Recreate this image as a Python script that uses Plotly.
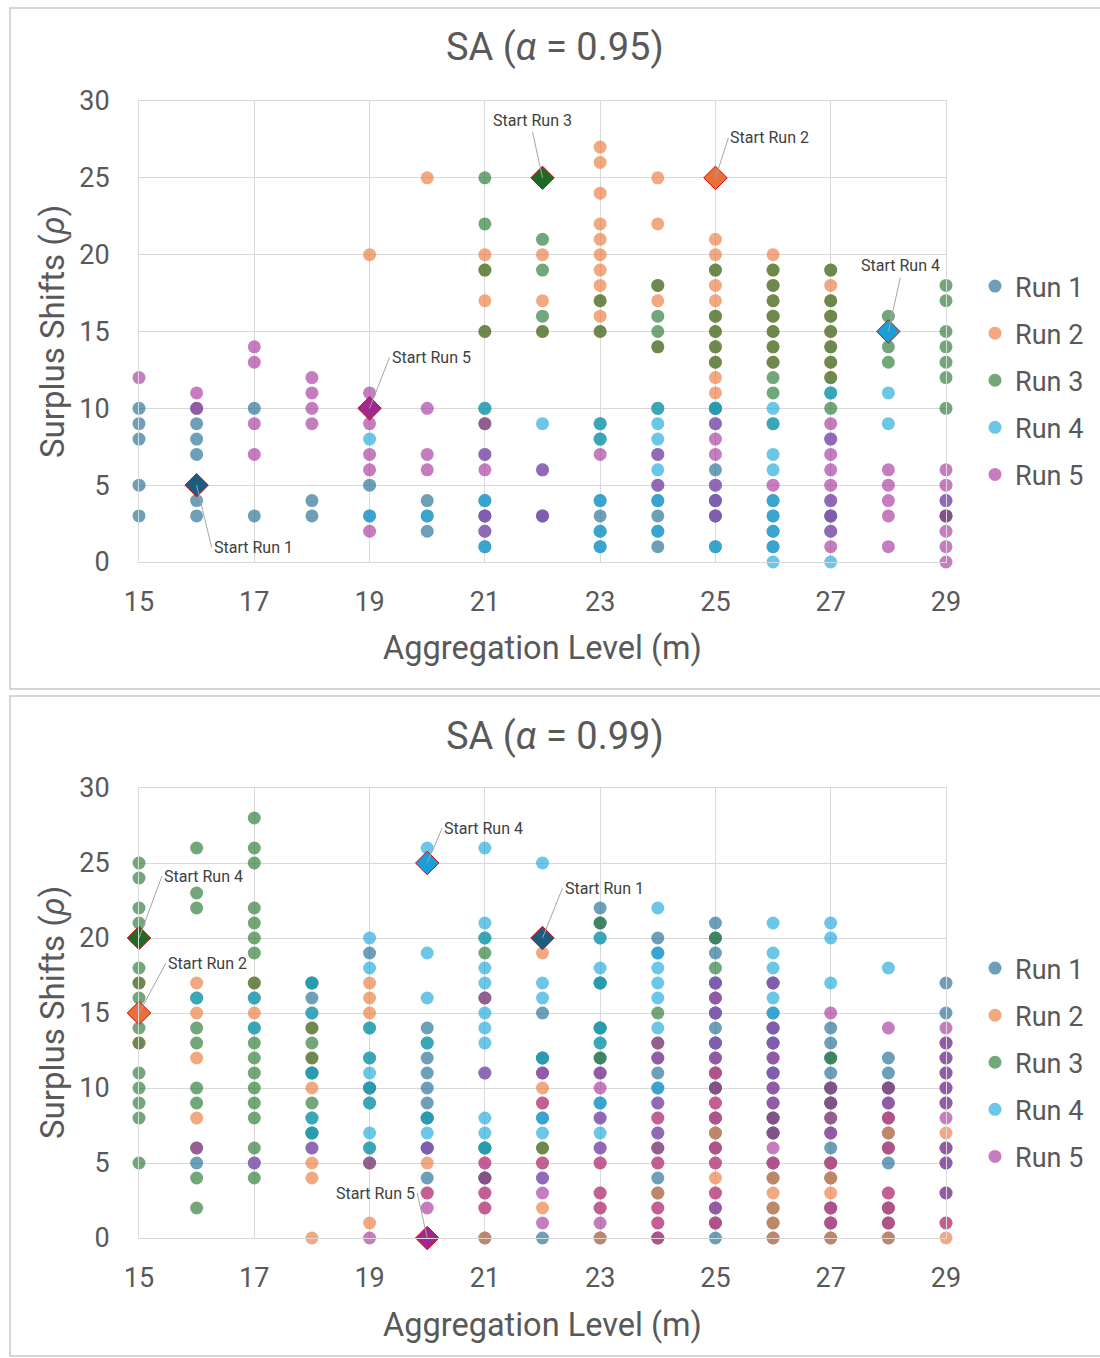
import plotly.graph_objects as go

# ---------------- data ----------------
RUN_NAMES = ["Run 1", "Run 2", "Run 3", "Run 4", "Run 5"]
X_TICKS = [15, 17, 19, 21, 23, 25, 27, 29]
Y_TICKS = [0, 5, 10, 15, 20, 25, 30]

# SA (alpha = 0.95): visited points per run, {m: [rho, ...]}
A95_RUN1 = {15: [10, 9, 8, 5, 3], 16: [10, 9, 8, 7, 4, 3], 17: [10, 3], 18: [4, 3], 19: [5, 3],
            20: [4, 3, 2], 21: [4, 3, 1], 22: [3], 23: [4, 3, 2, 1], 24: [4, 3, 2, 1],
            25: [10, 6, 4, 3, 1], 26: [4, 3, 2, 1], 27: [3], 29: [3]}
A95_RUN2 = {19: [20], 20: [25], 21: [20, 19, 17, 15], 22: [20, 17, 15],
            23: [27, 26, 24, 22, 21, 20, 19, 18, 17, 16, 15], 24: [25, 22, 18, 17, 14],
            25: [21, 20, 19, 18, 17, 16, 15, 14, 13, 12, 11], 26: [20, 19, 18, 17, 16, 15, 14, 13],
            27: [19, 18, 17, 16, 15, 14, 13, 12]}
A95_RUN3 = {21: [25, 22, 19, 15, 10, 9], 22: [21, 19, 16, 15], 23: [17, 15, 9, 8],
            24: [18, 16, 15, 14, 10], 25: [19, 16, 15, 14, 13, 10],
            26: [19, 18, 17, 16, 15, 14, 13, 12, 11, 9], 27: [19, 17, 16, 15, 14, 13, 12, 11, 10],
            28: [16, 14, 13], 29: [18, 17, 15, 14, 13, 12, 10, 3]}
A95_RUN4 = {19: [8, 3], 20: [3], 21: [10, 7, 4, 3, 2, 1], 22: [9, 6, 3], 23: [9, 8, 4, 2, 1],
            24: [10, 9, 8, 7, 6, 5, 4, 2], 25: [10, 9, 5, 4, 3, 1], 26: [10, 9, 7, 6, 4, 3, 2, 1, 0],
            27: [11, 8, 4, 3, 2, 0], 28: [11, 9], 29: [4]}
A95_RUN5 = {15: [12], 16: [11, 10], 17: [14, 13, 9, 7], 18: [12, 11, 10, 9], 19: [11, 9, 7, 6, 2],
            20: [10, 7, 6], 21: [9, 7, 6, 3, 2], 22: [6, 3], 23: [7], 24: [7, 5],
            25: [9, 8, 7, 5, 4, 3], 26: [5], 27: [9, 8, 7, 6, 5, 4, 3, 2, 1],
            28: [6, 5, 4, 3, 1], 29: [6, 5, 4, 3, 2, 1, 0]}
A95_START_X = [16, 25, 22, 28, 19]
A95_START_Y = [5, 25, 25, 15, 10]
A95_START_LABELS = ["Start Run 1", "Start Run 2", "Start Run 3", "Start Run 4", "Start Run 5"]

# SA (alpha = 0.99)
A99_RUN1 = {16: [5], 18: [17, 16, 11, 7], 19: [19, 10], 20: [14, 12, 11, 10, 9, 8, 6, 4],
            21: [6, 4, 0], 22: [15, 12, 11, 8, 0], 23: [22, 21, 17, 14, 12, 11, 9, 0],
            24: [20, 19, 12, 11, 10, 4, 3, 0],
            25: [21, 20, 19, 17, 16, 15, 14, 13, 12, 11, 10, 8, 7, 6, 2, 1, 0],
            26: [17, 15, 14, 13, 12, 11, 10, 9, 8, 7, 5, 4, 2, 1, 0],
            27: [14, 13, 12, 11, 10, 9, 7, 6, 5, 4, 2, 1, 0],
            28: [12, 11, 10, 9, 8, 7, 6, 5, 2, 1, 0], 29: [17, 15, 13, 12, 11, 10, 9, 6, 5, 3]}
A99_RUN2 = {15: [17, 13], 16: [17, 15, 12, 8], 17: [17, 15], 18: [14, 12, 10, 5, 4, 0],
            19: [17, 16, 15, 1], 20: [5, 3], 21: [5, 3, 2, 0], 22: [19, 10, 9, 6, 5, 2],
            23: [5, 3, 2, 0], 24: [8, 5, 3, 2, 1, 0], 25: [11, 9, 8, 7, 6, 5, 4, 3, 1],
            26: [5, 4, 3, 2, 1, 0], 27: [5, 4, 3, 2, 1, 0], 28: [8, 7, 6, 3, 2, 1, 0], 29: [7, 1, 0]}
A99_RUN3 = {15: [25, 24, 22, 21, 18, 17, 16, 14, 13, 11, 10, 9, 8, 5],
            16: [26, 23, 22, 16, 14, 13, 10, 9, 6, 4, 2],
            17: [28, 26, 25, 22, 21, 20, 19, 17, 16, 14, 13, 12, 11, 10, 9, 8, 6, 4],
            18: [17, 15, 14, 13, 12, 11, 9, 8, 7], 19: [14, 12, 10, 9, 6, 5], 20: [13, 8],
            21: [20, 19, 16, 6, 4], 22: [12, 6], 23: [21, 20, 17, 14, 13, 12], 24: [15, 13, 6],
            25: [20, 18, 10], 26: [8, 7], 27: [12, 10, 9, 8], 28: [10]}
A99_RUN4 = {16: [16], 17: [16, 14, 5], 18: [17, 15, 11, 8, 7, 6], 19: [20, 18, 14, 12, 11, 10, 9, 7, 6],
            20: [26, 19, 16, 13, 8, 7, 6], 21: [26, 21, 20, 18, 17, 15, 14, 13, 11, 8, 7, 6],
            22: [25, 17, 16, 12, 8, 7, 4], 23: [20, 18, 17, 14, 13, 9, 8, 7, 6],
            24: [22, 19, 18, 17, 16, 14, 10, 9, 7], 25: [17, 15, 13],
            26: [21, 19, 18, 17, 16, 15, 14, 13, 11], 27: [21, 20, 17], 28: [18]}
A99_RUN5 = {16: [6], 17: [5], 18: [6], 19: [5, 0], 20: [6, 3, 2], 21: [16, 11, 5, 4, 3, 2],
            22: [11, 9, 5, 4, 3, 1], 23: [11, 10, 8, 6, 5, 3, 2, 1],
            24: [13, 12, 9, 8, 7, 6, 5, 2, 1, 0],
            25: [17, 16, 15, 13, 12, 11, 10, 9, 8, 6, 5, 3, 2, 1],
            26: [17, 14, 13, 12, 11, 10, 9, 8, 7, 6, 5], 27: [15, 10, 9, 8, 7, 5, 2, 1],
            28: [14, 10, 9, 8, 6, 3, 2, 1], 29: [14, 13, 12, 11, 10, 9, 8, 6, 5, 3, 1]}
A99_START_X = [22, 15, 15, 20, 20]
A99_START_Y = [20, 15, 20, 25, 0]
A99_START_LABELS = ["Start Run 1", "Start Run 2", "Start Run 4", "Start Run 4", "Start Run 5"]

# ---------------- style ----------------
RUN_COLORS = ["#206c92", "#eb7b3f", "#267832", "#1ba7dc", "#a7379d"]
START_COLORS = ["#1b5d80", "#e8703a", "#1e6a26", "#189fd8", "#a1288f"]
TEXT = "#595959"
GRID = "#d9d9d9"
FONT = "Roboto"
W, H = 1100, 1358

def py(pix):
    return 1 - pix / H

PLOT_X = [139 / W, 946 / W]
PANELS = [
    dict(runs=[A95_RUN1, A95_RUN2, A95_RUN3, A95_RUN4, A95_RUN5], sx=A95_START_X, sy=A95_START_Y,
         labels=A95_START_LABELS, title="SA (<i>α</i> = 0.95)", xa="x", ya="y", legend="legend",
         ydom=[py(562), py(101)], title_y=47, xt_y=648, yt_y=332, border=(8, 689), leg_top=262,
         offsets=[(15, 62, "left"), (13, -40, "left"), (-10, -46, "center"), (12, -54, "center"), (20, -51, "left")]),
    dict(runs=[A99_RUN1, A99_RUN2, A99_RUN3, A99_RUN4, A99_RUN5], sx=A99_START_X, sy=A99_START_Y,
         labels=A99_START_LABELS, title="SA (<i>α</i> = 0.99)", xa="x2", ya="y2", legend="legend2",
         ydom=[py(1238), py(788)], title_y=736, xt_y=1325, yt_y=1013, border=(696, 1356), leg_top=944,
         offsets=[(20, -50, "left"), (27, -50, "left"), (23, -62, "left"), (15, -35, "left"), (-10, -45, "right")]),
]

fig = go.Figure()
annotations = []
shapes = []

for pi, P in enumerate(PANELS):
    for r, run in enumerate(P["runs"]):
        xs, ys = [], []
        for m, rhos in run.items():
            for rho in rhos:
                xs.append(m)
                ys.append(rho)
        fig.add_trace(go.Scatter(
            x=xs, y=ys, mode="markers", name=RUN_NAMES[r], xaxis=P["xa"], yaxis=P["ya"],
            legend=P["legend"], legendgroup=f"p{pi}r{r}", cliponaxis=False,
            marker=dict(size=13, color=RUN_COLORS[r], opacity=0.65, line=dict(width=0)),
            hoverinfo="x+y+name"))
    fig.add_trace(go.Scatter(
        x=P["sx"], y=P["sy"], mode="markers", showlegend=False, xaxis=P["xa"], yaxis=P["ya"],
        cliponaxis=False,
        marker=dict(symbol="diamond", size=18, color=START_COLORS,
                    line=dict(color="#e00000", width=1))))
    for i, lab in enumerate(P["labels"]):
        ax, ay, xanc = P["offsets"][i]
        yanc = "bottom" if xanc == "center" else "middle"
        annotations.append(dict(
            x=P["sx"][i], y=P["sy"][i], xref=P["xa"], yref=P["ya"], text=lab,
            showarrow=True, arrowhead=0, arrowwidth=1, arrowcolor="#a6a6a6", standoff=0,
            ax=ax, ay=ay, xanchor=xanc, yanchor=yanc,
            font=dict(family=FONT, size=16, color="#404040")))
    # titles
    annotations.append(dict(x=555 / W, y=py(P["title_y"]), xref="paper", yref="paper",
                            text=P["title"], showarrow=False, xanchor="center", yanchor="middle",
                            font=dict(family=FONT, size=38, color=TEXT)))
    annotations.append(dict(x=542 / W, y=py(P["xt_y"]), xref="paper", yref="paper",
                            text="Aggregation Level (m)", showarrow=False, xanchor="center",
                            yanchor="middle", font=dict(family=FONT, size=32.5, color=TEXT)))
    annotations.append(dict(x=52 / W, y=py(P["yt_y"]), xref="paper", yref="paper",
                            text="Surplus Shifts (<i>ρ</i>)", showarrow=False, textangle=-90,
                            xanchor="center", yanchor="middle",
                            font=dict(family=FONT, size=33, color=TEXT)))
    b0, b1 = P["border"]
    shapes.append(dict(type="rect", xref="paper", yref="paper", x0=10 / W, x1=1.02,
                       y0=py(b1), y1=py(b0), line=dict(color="#c8c8c8", width=1.5)))

axis_common = dict(showgrid=True, gridcolor=GRID, gridwidth=1, zeroline=False, showline=True,
                   linecolor=GRID, linewidth=1, mirror=True, ticks="outside", automargin=False,
                   tickcolor="rgba(0,0,0,0)", tickfont=dict(family=FONT, size=27, color=TEXT))

legend_common = dict(x=975 / W, xanchor="left", yanchor="top", bgcolor="rgba(0,0,0,0)",
                     font=dict(family=FONT, size=27, color=TEXT), traceorder="grouped",
                     tracegroupgap=9, itemsizing="trace")

fig.update_layout(
    width=W, height=H, autosize=False, paper_bgcolor="white", plot_bgcolor="white",
    margin=dict(l=0, r=0, t=0, b=0, pad=0, autoexpand=False),
    xaxis=dict(domain=PLOT_X, range=[15, 29], tickvals=X_TICKS, anchor="y", ticklen=16, **axis_common),
    yaxis=dict(domain=PANELS[0]["ydom"], range=[0, 30], tickvals=Y_TICKS, anchor="x", ticklen=23, **axis_common),
    xaxis2=dict(domain=PLOT_X, range=[15, 29], tickvals=X_TICKS, anchor="y2", ticklen=16, **axis_common),
    yaxis2=dict(domain=PANELS[1]["ydom"], range=[0, 30], tickvals=Y_TICKS, anchor="x2", ticklen=23, **axis_common),
    legend=dict(y=py(PANELS[0]["leg_top"]), **legend_common),
    legend2=dict(y=py(PANELS[1]["leg_top"]), **legend_common),
    annotations=annotations, shapes=shapes, showlegend=True,
)

fig.write_html("out.html", config={"displayModeBar": False},
               post_script="document.body.style.margin='0px';")
